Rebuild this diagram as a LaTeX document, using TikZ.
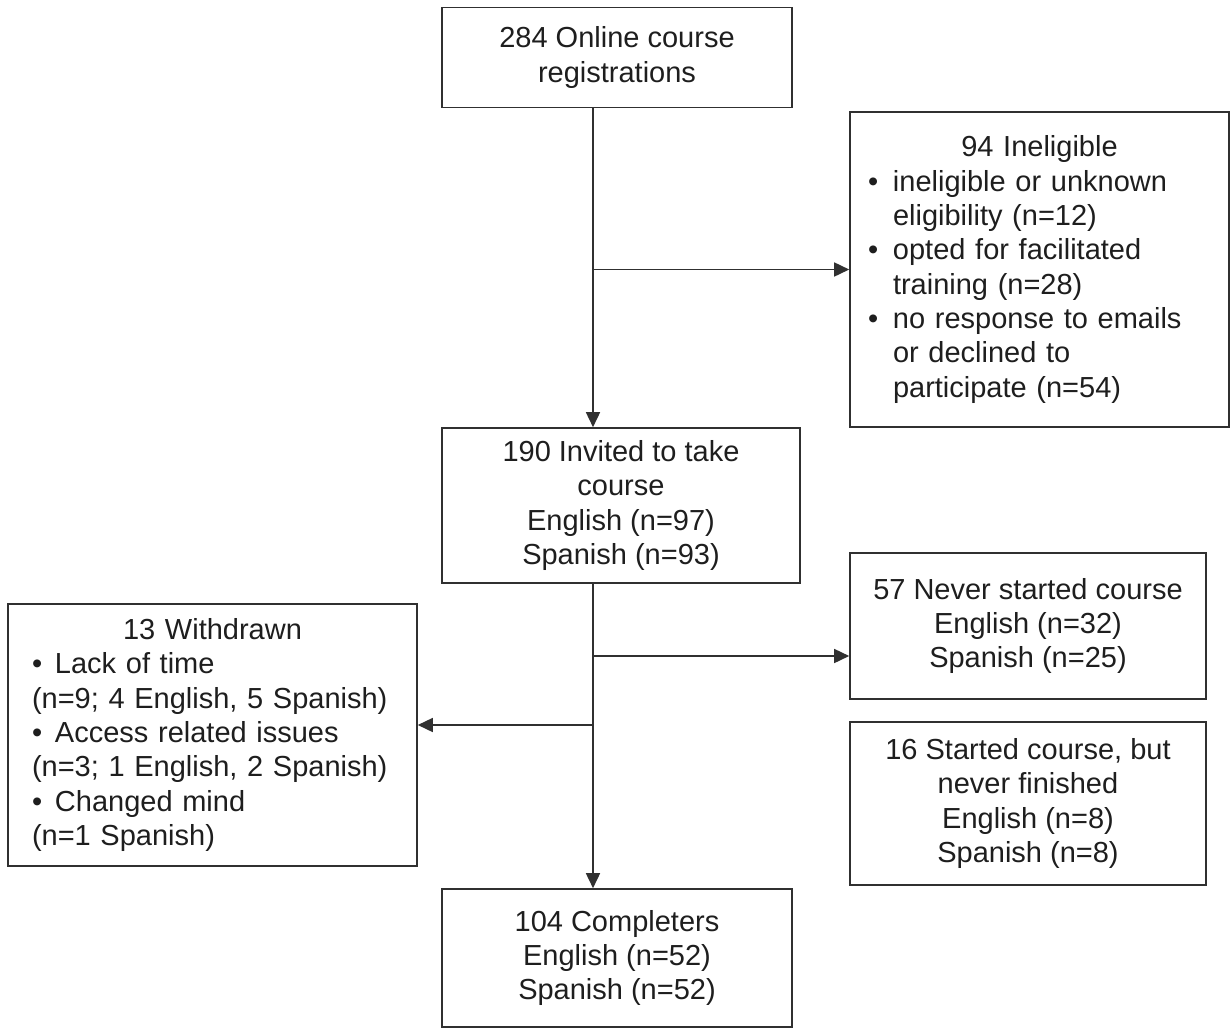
\documentclass[tikz,border=0pt]{standalone}
\usepackage{fontspec}
\setmainfont{Liberation Sans}
\usetikzlibrary{arrows.meta}
\definecolor{ink}{HTML}{1E1E1E}
\definecolor{edge}{HTML}{303030}
\tikzset{
  box/.style={draw=edge, line width=1.6pt, text=ink, inner sep=0pt, align=center,
              font=\fontsize{29}{34.3}\selectfont},
  listbox/.style={box, align=left},
  arr/.style={draw=edge, line width=1.6pt, -{Triangle[length=15pt,width=14pt]}},
  ln/.style={draw=edge, line width=1.6pt}
}
\newcommand{\bul}[1]{\makebox[#1][l]{•}}
\begin{document}
\begin{tikzpicture}[x=1pt,y=-1pt]
\useasboundingbox (0,0) rectangle (1232,1028);

\node[box, minimum width=350pt, minimum height=100pt] (top) at (617,57.5)
  {284 Online course\\registrations};

\node[listbox, minimum width=379pt, minimum height=315pt, text width=343pt] (inel) at (1039.5,269.5)
  {\makebox[\linewidth]{94 Ineligible}\\
   \bul{25pt}ineligible or unknown\\
   \hspace*{25pt}eligibility (n=12)\\
   \bul{25pt}opted for facilitated\\
   \hspace*{25pt}training (n=28)\\
   \bul{25pt}no response to emails\\
   \hspace*{25pt}or declined to\\
   \hspace*{25pt}participate (n=54)};

\node[box, minimum width=358pt, minimum height=155pt] (inv) at (621,505.5)
  {190 Invited to take\\course\\English (n=97)\\Spanish (n=93)};

\node[box, minimum width=356pt, minimum height=146pt] (never) at (1028,626)
  {57 Never started course\\English (n=32)\\Spanish (n=25)};

\node[box, minimum width=356pt, minimum height=163pt] (start) at (1028,803.5)
  {16 Started course, but\\never finished\\English (n=8)\\Spanish (n=8)};

\node[listbox, minimum width=409pt, minimum height=262pt, text width=361pt] (wd) at (212.5,735)
  {\makebox[\linewidth]{13 Withdrawn}\\
   \bul{23pt}Lack of time\\
   (n=9; 4 English, 5 Spanish)\\
   \bul{23pt}Access related issues\\
   (n=3; 1 English, 2 Spanish)\\
   \bul{23pt}Changed mind\\
   (n=1 Spanish)};

\node[box, minimum width=350pt, minimum height=138pt] (comp) at (617,958)
  {104 Completers\\English (n=52)\\Spanish (n=52)};

% main flow
\draw[arr] (593,0 |- top.south) -- (593,0 |- inv.north);
\draw[arr] (593,0 |- inel.west) -- (inel.west);
\draw[arr] (593,0 |- inv.south) -- (593,0 |- comp.north);
\coordinate (b1) at (593,656);
\coordinate (b2) at (593,725);
\draw[arr] (b1) -- (never.west |- b1);
\draw[arr] (b2) -- (wd.east |- b2);
\end{tikzpicture}
\end{document}
